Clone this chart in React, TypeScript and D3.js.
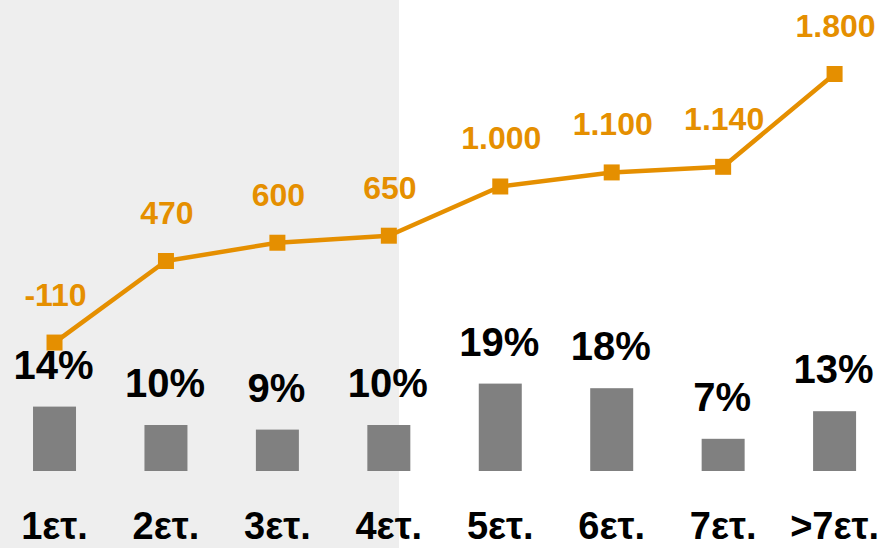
import React from "react";
import * as d3 from "d3";

const categories = ["1ετ.", "2ετ.", "3ετ.", "4ετ.", "5ετ.", "6ετ.", "7ετ.", ">7ετ."];
const shares = [14, 10, 9, 10, 19, 18, 7, 13];
const shareLabels = ["14%", "10%", "9%", "10%", "19%", "18%", "7%", "13%"];
const amounts = [-110, 470, 600, 650, 1000, 1100, 1140, 1800];
const amountLabels = ["-110", "470", "600", "650", "1.000", "1.100", "1.140", "1.800"];

const W = 884;
const H = 548;
const ORANGE = "#E58F00";
const BAR = "#808080";
const FONT = "'Liberation Sans', Arial, sans-serif";

export default function App() {
  const x = d3
    .scaleBand<string>()
    .domain(categories)
    .range([-1.2, 890.3])
    .paddingInner(0.614)
    .paddingOuter(0.307);
  const cx = (c: string) => (x(c) as number) + x.bandwidth() / 2;

  const yBar = d3.scaleLinear().domain([0, 20]).range([471, 379]);
  const yLine = d3.scaleLinear().domain([0, 1800]).range([327.1, 74]);

  const line = d3
    .line<number>()
    .x((_, i) => cx(categories[i]))
    .y((d) => yLine(d));

  const shadeRight = 399;

  return (
    <svg
      width={W}
      height={H}
      style={{ position: "fixed", left: 0, top: 0, display: "block" }}
      fontFamily={FONT}
    >
      <rect x={0} y={0} width={W} height={H} fill="#ffffff" />
      <rect x={0} y={0} width={shadeRight} height={H} fill="#EEEEEE" />
      {categories.map((c, i) => {
        const bw = 43;
        return (
          <g key={c}>
            <rect
              x={cx(c) - bw / 2}
              y={yBar(shares[i])}
              width={bw}
              height={yBar(0) - yBar(shares[i])}
              fill={BAR}
            />
            <text
              x={cx(c) - 1}
              y={yBar(shares[i]) - 28}
              textAnchor="middle"
              fontSize={40}
              fontWeight="bold"
              fill="#000"
            >
              {shareLabels[i]}
            </text>
            <text
              x={cx(c)}
              y={539}
              textAnchor="middle"
              fontSize={38}
              fontWeight="bold"
              fill="#000"
            >
              {c}
            </text>
          </g>
        );
      })}
      <path d={line(amounts) || ""} fill="none" stroke={ORANGE} strokeWidth={4.5} strokeLinejoin="round" />
      {amounts.map((v, i) => {
        const px = cx(categories[i]);
        const py = yLine(v);
        return (
          <g key={i}>
            <rect x={px - 8} y={py - 8} width={16} height={16} fill={ORANGE} />
            <text
              x={px + 1}
              y={py - 37}
              textAnchor="middle"
              fontSize={32}
              fontWeight="bold"
              fill={ORANGE}
            >
              {amountLabels[i]}
            </text>
          </g>
        );
      })}
    </svg>
  );
}
